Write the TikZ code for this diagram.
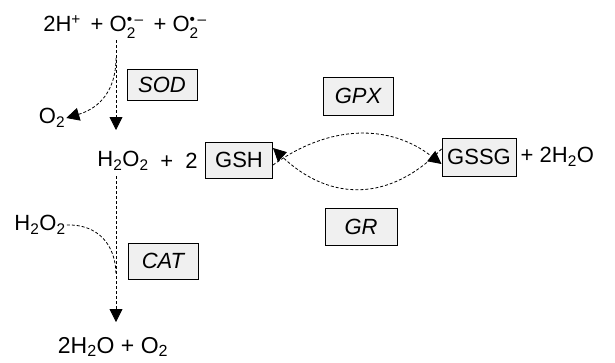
\documentclass[tikz,border=0pt]{standalone}
\usepackage{fontspec}
\usepackage{amsmath}
\setmainfont{Liberation Sans}
\usetikzlibrary{arrows.meta}
\newcommand\myradical{O$^{\text{•\,–}}_{\text{2}}$}
\begin{document}
\begin{tikzpicture}[x=1pt,y=-1pt,
  lbl/.style={font=\fontsize{22}{24}\selectfont, inner sep=1pt},
  enz/.style={draw=black, line width=0.8pt, fill=gray!12, font=\fontsize{22}{24}\selectfont\itshape, inner sep=0pt},
  mol/.style={draw=black, line width=1pt, fill=gray!12, font=\fontsize{22}{24}\selectfont, inner sep=0pt},
  conn/.style={line width=0.8pt, densely dashed, -{Triangle[length=13pt,width=13pt]}},
  plainc/.style={line width=0.8pt, densely dashed}]
\useasboundingbox (0,0) rectangle (615,362);
\node[lbl] (top) at (125,27) {2H\textsuperscript{+}\, + \myradical\, + \myradical};
\node[lbl] (o2) at (52,118) {O\textsubscript{2}};
\node[enz, minimum width=70pt, minimum height=31pt] (sod) at (162,85) {SOD};
\node[lbl] (h2o2) at (123,161) {H\textsubscript{2}O\textsubscript{2}};
\node[lbl] (plus) at (179,161) {+ \;2};
\node[mol, minimum width=67pt, minimum height=36pt] (gsh) at (239,160) {GSH};
\node[enz, minimum width=70pt, minimum height=38pt] (gpx) at (358,96) {GPX};
\node[mol, minimum width=74pt, minimum height=38pt] (gssg) at (479,157) {GSSG};
\node[lbl, anchor=west] (w) at ([xshift=3pt]gssg.east) {+ 2H\textsubscript{2}O};
\node[enz, minimum width=72pt, minimum height=37pt] (gr) at (361,227) {GR};
\node[lbl] (h2o2b) at (40,225) {H\textsubscript{2}O\textsubscript{2}};
\node[enz, minimum width=70pt, minimum height=36pt] (cat) at (163,261) {CAT};
\node[lbl, font=\fontsize{23}{25}\selectfont] (bot) at (113,347) {2H\textsubscript{2}O + O\textsubscript{2}};
\coordinate (v1) at (116,40);
\coordinate (v2) at (116,130);
\coordinate (v3) at (116,176);
\coordinate (v4) at (116,322);
\coordinate (s1) at (116,58);
\coordinate (c1) at (116,275);
\draw[conn] (v1) -- (v2);
\draw[conn] (s1) .. controls (116,90) and (100,108) .. (o2.east);
\draw[conn] (v3) -- (v4);
\draw[plainc] (h2o2b.east) .. controls (98,224) and (116,245) .. (c1);
\draw[conn] ([yshift=-5pt]gsh.east) .. controls (330,124) and (390,124) .. ([yshift=-7pt]gssg.west);
\draw[conn] ([yshift=8pt]gssg.west) .. controls (390,202) and (330,202) .. ([yshift=12pt]gsh.east);
\end{tikzpicture}
\end{document}
